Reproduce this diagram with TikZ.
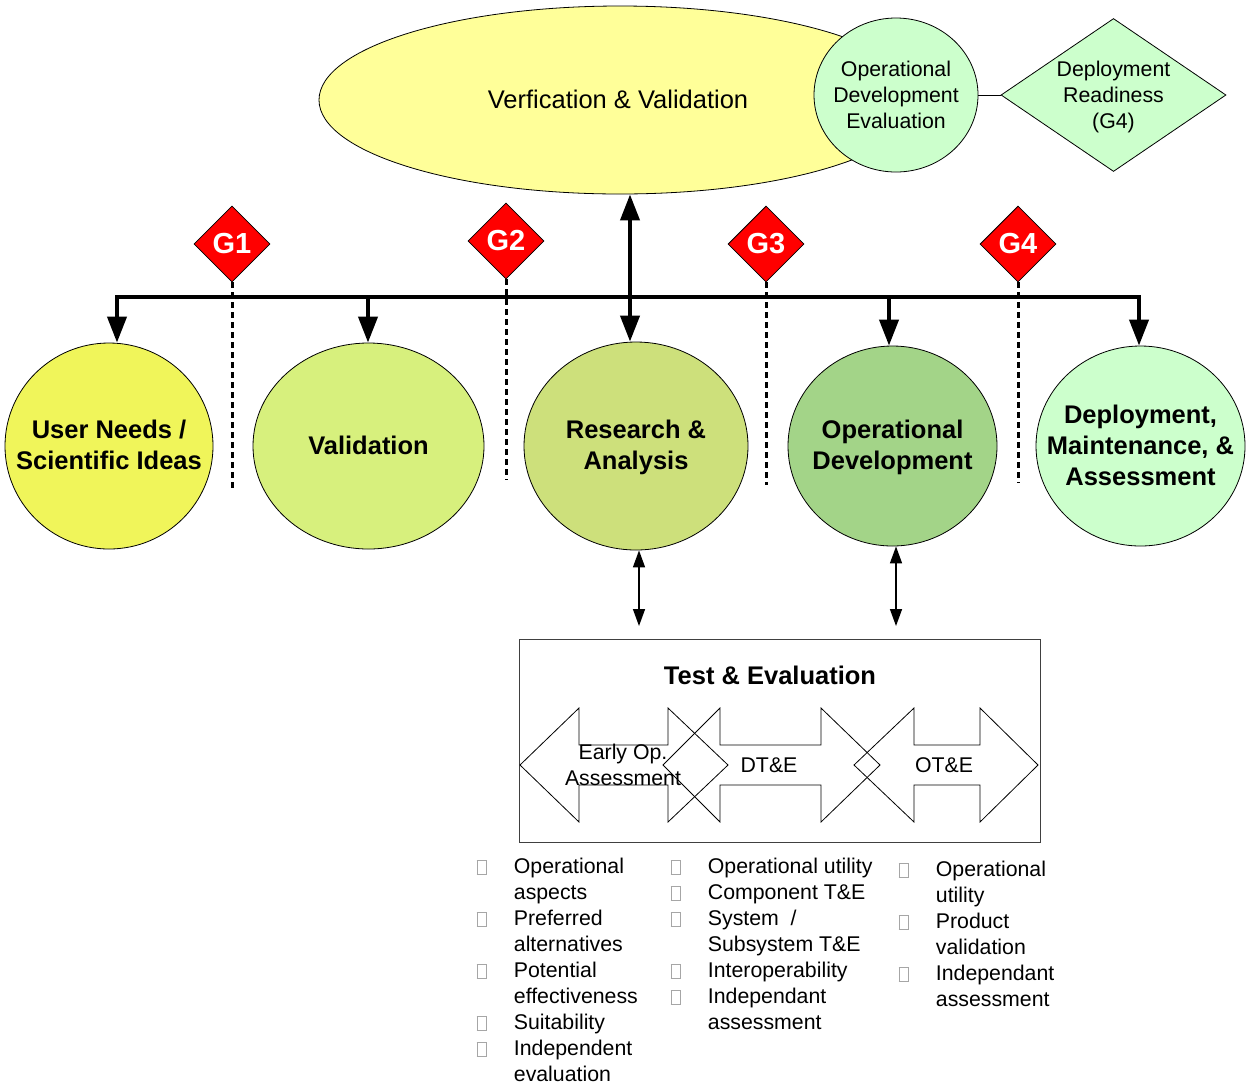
\documentclass[tikz,border=0pt]{standalone}
\usepackage{fontspec}
\setmainfont{Liberation Sans}
\usetikzlibrary{shapes.geometric,arrows.meta}
\definecolor{amarillito}{RGB}{255,255,153}
\definecolor{limoncito}{RGB}{240,245,90}
\definecolor{pistachito}{RGB}{215,240,125}
\definecolor{olivito}{RGB}{205,224,123}
\definecolor{verdecito}{RGB}{163,212,136}
\definecolor{mentita}{RGB}{204,255,204}
\definecolor{rojito}{RGB}{255,0,0}
\newcommand{\bigfont}{\fontsize{25.5}{31}\selectfont}
\newcommand{\smallfont}{\fontsize{21.3}{26}\selectfont}
\newcommand{\gatefont}{\fontsize{29}{33}\selectfont\bfseries}
\newcommand{\tofu}{{\color{gray!70}\setlength{\fboxsep}{0pt}\setlength{\fboxrule}{0.6pt}\fbox{\rule{0pt}{13pt}\rule{9pt}{0pt}}}}
\tikzset{>={Triangle[length=26pt,width=19pt]},
  phase/.style={ellipse, draw, line width=0.8pt, inner sep=0pt},
  phasetext/.style={font=\bigfont\bfseries, align=center, inner sep=0pt},
  gate/.style={diamond, draw, line width=0.8pt, fill=rojito, text=white, inner sep=0pt, minimum width=76pt, minimum height=76pt, font=\gatefont},
  bus/.style={line width=4pt},
  gateline/.style={line width=3pt, dash pattern=on 6pt off 4pt},
  link/.style={line width=1.5pt, {Triangle[length=17pt,width=12pt]}-{Triangle[length=17pt,width=12pt]}},
  tearrow/.style={line width=0.8pt, line join=miter},
  bullets/.style={font=\smallfont, anchor=base west, inner sep=0pt}}

\begin{document}
\begin{tikzpicture}[x=1pt,y=-1pt]
\useasboundingbox (0,0) rectangle (1246,1088);

\node[phase, fill=amarillito, minimum width=602pt, minimum height=188pt] (vv) at (620,100) {};
\node[font=\bigfont] (vv-t) at (618,99) {Verfication \& Validation};
\node[phase, fill=mentita, minimum width=164pt, minimum height=154pt] (ode) at (896,95) {};
\node[font=\smallfont, align=center, inner sep=0pt] (ode-t) at (896,95) {Operational\\Development\\Evaluation};
\node[diamond, draw, line width=0.8pt, fill=mentita, inner sep=0pt, aspect=1.47, minimum width=225pt, minimum height=153pt] (rdy) at (1113.5,95) {};
\node[font=\smallfont, align=center, inner sep=0pt] (rdy-t) at (1113.5,97) {Deployment\\Readiness\\(G4)};
\draw[line width=0.8pt] (ode.east) -- (rdy.west);

\node[phase, fill=limoncito, minimum width=208pt, minimum height=206pt] (un) at (109,446) {};
\node[phasetext] (un-t) at (109,445) {User Needs /\\Scientific Ideas};
\node[phase, fill=pistachito, minimum width=231pt, minimum height=206pt] (val) at (368.5,446) {};
\node[phasetext] (val-t) at (368.5,445) {Validation};
\node[phase, fill=olivito, minimum width=224pt, minimum height=208pt] (ra) at (636,446) {};
\node[phasetext] (ra-t) at (636,447) {Research \&\\Analysis};
\node[phase, fill=verdecito, minimum width=209pt, minimum height=200pt] (od) at (892.5,446) {};
\node[phasetext] (od-t) at (892.5,447) {Operational\\Development};
\node[phase, fill=mentita, minimum width=209pt, minimum height=200pt] (dep) at (1140.5,446) {};
\node[phasetext] (dep-t) at (1140.5,445) {Deployment,\\Maintenance, \&\\Assessment};

\coordinate (b1) at (117,297);
\coordinate (b2) at (368,297);
\coordinate (b3) at (630,297);
\coordinate (b4) at (889,297);
\coordinate (b5) at (1139,297);
\draw[bus,<->] (b1 |- un.north) -- (b1) -- (b5) -- (b5 |- dep.north);
\draw[bus,->] (b2) -- (b2 |- val.north);
\draw[bus,->] (b4) -- (b4 |- od.north);
\draw[bus,<->] (b3 |- vv.south) -- (b3 |- ra.north);

\node[gate] (g1) at (232,244) {G1};
\node[gate] (g2) at (506,241) {G2};
\node[gate] (g3) at (766,244) {G3};
\node[gate] (g4) at (1018,244) {G4};
\foreach \g/\e in {g1/490,g2/480,g3/485,g4/483}
  \draw[gateline] (\g.south) -- (\g.south |- 0,\e);

\coordinate (ra-e) at (639,626);
\coordinate (od-e) at (896,626);
\draw[link] (ra.south -| ra-e) -- (ra-e);
\draw[link] (od.south -| od-e) -- (od-e);

\node[draw=black!75, line width=1pt, minimum width=521pt, minimum height=203pt, inner sep=0pt] (tebox) at (779.5,740.5) {};
\node[font=\bigfont\bfseries] (te-t) at (770,675) {Test \& Evaluation};
\foreach \a/\b/\c/\d in {520/579/668/728, 663/720/821/880, 854/914/980/1038}
  \draw[tearrow] (\a,765) -- (\b,708) -- (\b,745) -- (\c,745) -- (\c,708) -- (\d,765)
    -- (\c,822) -- (\c,785) -- (\b,785) -- (\b,822) -- cycle;
\node[font=\smallfont, align=center, inner sep=0pt] (eoa) at (623,765) {Early Op.\\Assessment};
\node[font=\smallfont] (dte) at (769,765) {DT\&E};
\node[font=\smallfont] (ote) at (944,765) {OT\&E};

\node[bullets] (l1) at (476.5,873.5) {\begin{tabular}[t]{@{}l@{\hspace{27pt}}l@{}}
\tofu & Operational\\
 & aspects\\
\tofu & Preferred\\
 & alternatives\\
\tofu & Potential\\
 & effectiveness\\
\tofu & Suitability\\
\tofu & Independent\\
 & evaluation
\end{tabular}};
\node[bullets] (l2) at (670.5,873.5) {\begin{tabular}[t]{@{}l@{\hspace{27pt}}l@{}}
\tofu & Operational utility\\
\tofu & Component T\&E\\
\tofu & System\ \ /\\
 & Subsystem T\&E\\
\tofu & Interoperability\\
\tofu & Independant\\
 & assessment
\end{tabular}};
\node[bullets] (l3) at (898.5,876.5) {\begin{tabular}[t]{@{}l@{\hspace{27pt}}l@{}}
\tofu & Operational\\
 & utility\\
\tofu & Product\\
 & validation\\
\tofu & Independant\\
 & assessment
\end{tabular}};
\end{tikzpicture}
\end{document}
